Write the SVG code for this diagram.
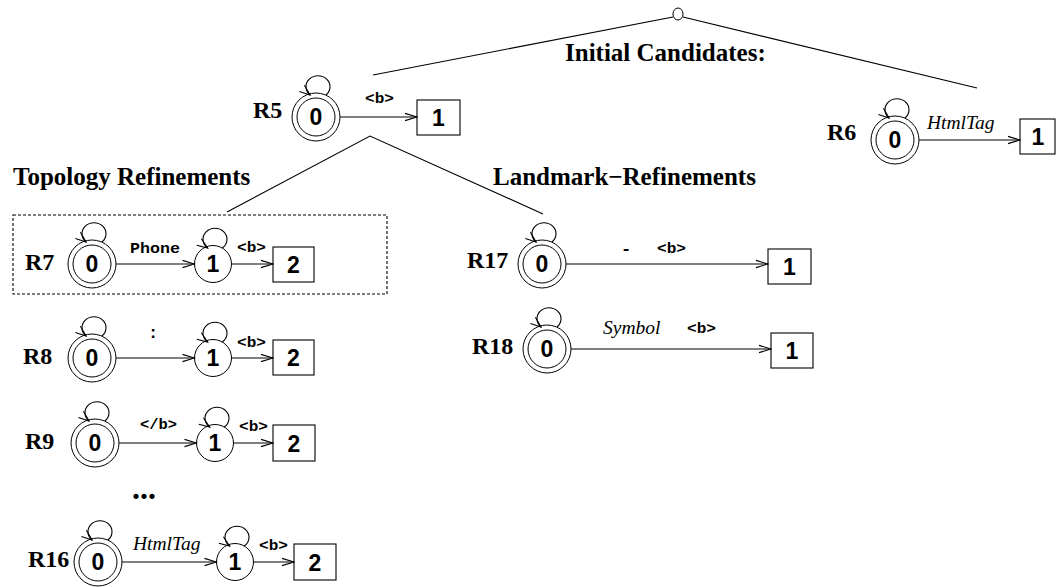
<svg xmlns="http://www.w3.org/2000/svg" width="1057" height="587" viewBox="0 0 1057 587">
<style>
.lbl{font-family:"Liberation Serif","Times New Roman",serif;font-weight:bold;font-size:24px;fill:#000}
.head{font-family:"Liberation Serif","Times New Roman",serif;font-weight:bold;font-size:25px;fill:#000}
.num{font-family:"Liberation Sans",Arial,sans-serif;font-weight:bold;font-size:23px;fill:#000;text-anchor:middle}
.mono{font-family:"Liberation Mono","Courier New",monospace;font-weight:bold;font-size:14px;fill:#000}
.it{font-family:"Liberation Serif","Times New Roman",serif;font-style:italic;font-size:19.5px;fill:#000}
.st{fill:#fff;stroke:#000;stroke-width:1}
.box{fill:#fff;stroke:#000;stroke-width:1.1}
.ln{fill:none;stroke:#000;stroke-width:1.1}
.arr{fill:none;stroke:#000;stroke-width:1.1;marker-end:url(#ah)}
.loop{fill:none;stroke:#000;stroke-width:1.1;marker-end:url(#ahs)}
</style>
<defs>
<marker id="ah" markerUnits="userSpaceOnUse" markerWidth="14" markerHeight="10" viewBox="0 0 14 10" refX="13" refY="5" orient="auto"><path d="M1,1.4 L13,5 L1,8.6" fill="none" stroke="#000" stroke-width="1.1"/></marker>
<marker id="ahs" markerUnits="userSpaceOnUse" markerWidth="13" markerHeight="10" viewBox="0 0 13 10" refX="11.5" refY="5" orient="auto"><path d="M1,1 L11.5,5 L1,9" fill="none" stroke="#000" stroke-width="1.1"/></marker>
</defs>
<rect width="1057" height="587" fill="#fff"/>

<g id="root">
  <ellipse class="st" cx="678" cy="14" rx="5" ry="6"/>
</g>
<g id="headings">
  <text class="head" x="565" y="61">Initial Candidates:</text>
  <text class="head" x="13" y="185">Topology Refinements</text>
  <text class="head" x="493" y="185">Landmark−Refinements</text>
</g>

<g id="R5">
  <text class="lbl" x="253" y="118">R5</text>
  <g id="R5-s0"><circle class="st" cx="316" cy="117" r="24"/><circle class="st" cx="316" cy="117" r="19"/><text class="num" x="316" y="125">0</text></g>
  <text class="mono" x="365" y="103" textLength="29" lengthAdjust="spacingAndGlyphs">&lt;b&gt;</text>
  <g id="R5-s1"><rect class="box" x="417" y="100" width="43" height="35"/><text class="num" x="438.5" y="126">1</text></g>
</g>

<g id="R6">
  <text class="lbl" x="827" y="140">R6</text>
  <g id="R6-s0"><circle class="st" cx="895" cy="140" r="24"/><circle class="st" cx="895" cy="140" r="19"/><text class="num" x="895" y="148">0</text></g>
  <text class="it" x="927" y="129">HtmlTag</text>
  <g id="R6-s1"><rect class="box" x="1020" y="119" width="35" height="35"/><text class="num" x="1038" y="145">1</text></g>
</g>

<g id="R7">
  <rect x="13" y="215" width="374" height="79" fill="none" stroke="#000" stroke-width="1.1" stroke-dasharray="3 2"/>
  <text class="lbl" x="25" y="270">R7</text>
  <g id="R7-s0"><circle class="st" cx="92" cy="264" r="24"/><circle class="st" cx="92" cy="264" r="19"/><text class="num" x="92" y="272">0</text></g>
  <text class="mono" x="130" y="253" textLength="50" lengthAdjust="spacingAndGlyphs">Phone</text>
  <g id="R7-s1"><circle class="st" cx="213" cy="264" r="18.5"/><text class="num" x="213" y="272">1</text></g>
  <text class="mono" x="237" y="252" textLength="29" lengthAdjust="spacingAndGlyphs">&lt;b&gt;</text>
  <g id="R7-s2"><rect class="box" x="273" y="247" width="41" height="35"/><text class="num" x="293.5" y="273">2</text></g>
</g>

<g id="R8">
  <text class="lbl" x="23" y="364">R8</text>
  <g id="R8-s0"><circle class="st" cx="92" cy="358" r="24"/><circle class="st" cx="92" cy="358" r="19"/><text class="num" x="92" y="366">0</text></g>
  <text class="mono" x="148" y="338" style="font-size:17px">:</text>
  <g id="R8-s1"><circle class="st" cx="213" cy="358" r="18.5"/><text class="num" x="213" y="366">1</text></g>
  <text class="mono" x="237" y="347" textLength="29" lengthAdjust="spacingAndGlyphs">&lt;b&gt;</text>
  <g id="R8-s2"><rect class="box" x="273" y="340" width="41" height="35"/><text class="num" x="293.5" y="366">2</text></g>
</g>

<g id="R9">
  <text class="lbl" x="25" y="449">R9</text>
  <g id="R9-s0"><circle class="st" cx="95" cy="443" r="24"/><circle class="st" cx="95" cy="443" r="19"/><text class="num" x="95" y="451">0</text></g>
  <text class="mono" x="140" y="429" textLength="37" lengthAdjust="spacingAndGlyphs">&lt;/b&gt;</text>
  <g id="R9-s1"><circle class="st" cx="215" cy="443" r="18.5"/><text class="num" x="215" y="451">1</text></g>
  <text class="mono" x="239" y="431" textLength="29" lengthAdjust="spacingAndGlyphs">&lt;b&gt;</text>
  <g id="R9-s2"><rect class="box" x="273" y="425" width="42" height="36"/><text class="num" x="294" y="451.5">2</text></g>
</g>

<g id="ellipsis">
  <text class="lbl" x="144" y="499" style="font-size:32px" text-anchor="middle">...</text>
</g>

<g id="R16">
  <text class="lbl" x="28" y="567">R16</text>
  <g id="R16-s0"><circle class="st" cx="98" cy="562" r="24"/><circle class="st" cx="98" cy="562" r="19"/><text class="num" x="98" y="570">0</text></g>
  <text class="it" x="133" y="550">HtmlTag</text>
  <g id="R16-s1"><circle class="st" cx="235" cy="562" r="18.5"/><text class="num" x="235" y="570">1</text></g>
  <text class="mono" x="259" y="550" textLength="29" lengthAdjust="spacingAndGlyphs">&lt;b&gt;</text>
  <g id="R16-s2"><rect class="box" x="294" y="544" width="42" height="36"/><text class="num" x="315" y="570.5">2</text></g>
</g>

<g id="R17">
  <text class="lbl" x="467" y="268">R17</text>
  <g id="R17-s0"><circle class="st" cx="542" cy="264" r="24"/><circle class="st" cx="542" cy="264" r="19"/><text class="num" x="542" y="272">0</text></g>
  <text class="mono" x="621" y="254" style="font-size:17px">-</text>
  <text class="mono" x="657" y="253" textLength="29" lengthAdjust="spacingAndGlyphs">&lt;b&gt;</text>
  <g id="R17-s1"><rect class="box" x="768" y="249" width="43" height="35"/><text class="num" x="789.5" y="275">1</text></g>
</g>

<g id="R18">
  <text class="lbl" x="472" y="354">R18</text>
  <g id="R18-s0"><circle class="st" cx="547" cy="349" r="24"/><circle class="st" cx="547" cy="349" r="19"/><text class="num" x="547" y="357">0</text></g>
  <text class="it" x="603" y="334">Symbol</text>
  <text class="mono" x="687" y="333" textLength="29" lengthAdjust="spacingAndGlyphs">&lt;b&gt;</text>
  <g id="R18-s1"><rect class="box" x="771" y="333" width="42" height="35"/><text class="num" x="792" y="359">1</text></g>
</g>

<g id="connectors">
  <line class="ln" x1="673" y1="17" x2="373" y2="75"/>
  <line class="ln" x1="683" y1="17" x2="977" y2="88"/>
  <polyline class="ln" points="227,212 370,136 543,214"/>
  <path class="loop" d="M325.9,95 A12 11 0 1 0 310.1,95"/>
  <line class="arr" x1="340" y1="117" x2="417" y2="117"/>
  <path class="loop" d="M904.9,118 A12 11 0 1 0 889.1,118"/>
  <line class="arr" x1="919" y1="140" x2="1020" y2="140"/>
  <path class="loop" d="M101.9,242 A12 11 0 1 0 86.1,242"/>
  <path class="loop" d="M222.3,248 A12 11 0 1 0 207.7,248"/>
  <line class="arr" x1="116" y1="264" x2="194.5" y2="264"/>
  <line class="arr" x1="231.5" y1="264" x2="273" y2="264"/>
  <path class="loop" d="M101.9,336 A12 11 0 1 0 86.1,336"/>
  <path class="loop" d="M222.3,342 A12 11 0 1 0 207.7,342"/>
  <line class="arr" x1="116" y1="358" x2="194.5" y2="358"/>
  <line class="arr" x1="231.5" y1="358" x2="273" y2="358"/>
  <path class="loop" d="M104.9,421 A12 11 0 1 0 89.1,421"/>
  <path class="loop" d="M224.3,427 A12 11 0 1 0 209.7,427"/>
  <line class="arr" x1="119" y1="443" x2="196.5" y2="443"/>
  <line class="arr" x1="233.5" y1="443" x2="273" y2="443"/>
  <path class="loop" d="M107.9,540 A12 11 0 1 0 92.1,540"/>
  <path class="loop" d="M244.3,546 A12 11 0 1 0 229.7,546"/>
  <line class="arr" x1="122" y1="562" x2="216.5" y2="562"/>
  <line class="arr" x1="253.5" y1="562" x2="294" y2="562"/>
  <path class="loop" d="M551.9,242 A12 11 0 1 0 536.1,242"/>
  <line class="arr" x1="566" y1="264" x2="768" y2="264"/>
  <path class="loop" d="M556.9,327 A12 11 0 1 0 541.1,327"/>
  <line class="arr" x1="571" y1="349" x2="771" y2="349"/>
</g>
</svg>
